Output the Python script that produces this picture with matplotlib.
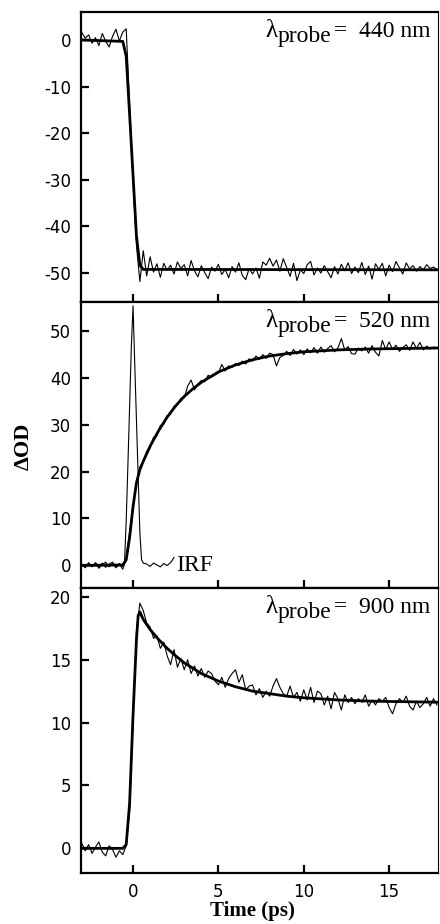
import matplotlib
matplotlib.use("Agg")
import matplotlib.pyplot as plt

plt.rcParams["axes.unicode_minus"] = False

# sample times (ps) of the measured traces
time_ps = [-3.0, -2.8, -2.6, -2.4, -2.2, -2.0, -1.8, -1.6, -1.4, -1.2,
           -1.0, -0.8, -0.6, -0.4, -0.2, 0.0, 0.2, 0.4, 0.6, 0.8,
           1.0, 1.2, 1.4, 1.6, 1.8, 2.0, 2.2, 2.4, 2.6, 2.8,
           3.0, 3.2, 3.4, 3.6, 3.8, 4.0, 4.2, 4.4, 4.6, 4.8,
           5.0, 5.2, 5.4, 5.6, 5.8, 6.0, 6.2, 6.4, 6.6, 6.8,
           7.0, 7.2, 7.4, 7.6, 7.8, 8.0, 8.2, 8.4, 8.6, 8.8,
           9.0, 9.2, 9.4, 9.6, 9.8, 10.0, 10.2, 10.4, 10.6, 10.8,
           11.0, 11.2, 11.4, 11.6, 11.8, 12.0, 12.2, 12.4, 12.6, 12.8,
           13.0, 13.2, 13.4, 13.6, 13.8, 14.0, 14.2, 14.4, 14.6, 14.8,
           15.0, 15.2, 15.4, 15.6, 15.8, 16.0, 16.2, 16.4, 16.6, 16.8,
           17.0, 17.2, 17.4, 17.6, 17.8]

# 440 nm: bleach
od_440 = [1.6, 0.4, 1.1, -0.7, 0.5, -1.2, 1.4, -0.3, -1.5, 0.8,
          2.3, -0.2, 1.7, 2.4, -14.0, -30.5, -44.0, -51.8, -45.2, -50.6,
          -46.5, -49.8, -48.0, -50.9, -47.9, -49.4, -48.3, -50.2, -47.6, -49.0,
          -48.2, -50.6, -47.3, -49.5, -50.8, -48.4, -49.9, -51.2, -48.7, -49.6,
          -48.1, -50.3, -49.2, -51.0, -48.6, -49.8, -47.8, -50.5, -51.4, -49.0,
          -50.2, -48.9, -51.1, -47.6, -48.3, -46.8, -48.5, -47.2, -49.6, -46.9,
          -48.8, -50.7, -47.9, -51.6, -49.3, -50.1, -48.2, -47.5, -50.4, -48.9,
          -50.0, -48.4, -49.7, -51.0, -48.6, -50.2, -48.1, -49.5, -47.8, -50.1,
          -48.7, -49.9, -47.7, -50.3, -48.5, -51.3, -48.0, -49.2, -47.9, -50.6,
          -48.3, -49.7, -47.5, -48.9, -50.2, -47.8, -49.1, -48.4, -49.6, -48.6,
          -49.3, -48.2, -49.0, -48.7, -49.2]
fit_440_t = [-3.0, -0.6, -0.4, -0.2, 0.0, 0.2, 0.4, 0.6, 17.8]
fit_440 = [0.0, -0.3, -3.5, -16.0, -29.0, -42.0, -48.3, -49.2, -49.3]

# 520 nm: rise
od_520 = [0.3, -0.4, 0.6, -0.2, 0.5, -0.6, 0.2, 0.7, -0.3, 0.4,
          -0.5, 0.3, -0.8, 1.6, 7.0, 13.0, 17.2, 21.0, 22.0, 24.3,
          25.0, 27.3, 27.6, 29.8, 30.1, 31.9, 32.2, 33.9, 34.1, 35.6,
          35.7, 38.2, 39.5, 37.4, 38.6, 39.4, 39.1, 40.5, 40.1, 40.6,
          41.0, 42.8, 41.4, 42.5, 42.2, 43.0, 42.6, 43.5, 42.9, 44.0,
          43.5, 44.6, 43.9, 44.9, 44.1, 45.2, 44.9, 42.5, 44.3, 44.7,
          45.6, 44.7, 46.0, 45.0, 45.9, 44.9, 46.1, 45.3, 46.4, 45.2,
          46.5, 45.4, 46.2, 46.8, 45.5, 46.3, 48.3, 45.9, 46.6, 45.1,
          45.0, 46.3, 45.7, 46.5, 45.2, 46.8, 45.4, 44.6, 47.9, 46.0,
          47.6, 46.0, 46.9, 45.6, 46.4, 47.0, 45.8, 47.6, 46.2, 47.5,
          45.9, 46.7, 46.1, 46.5, 46.3]
fit_520_t = [-3.0, -0.6, -0.4, -0.2, 0.0, 0.2, 0.4, 0.6, 0.8, 1.0, 1.5, 2.0, 2.5,
             3.0, 3.5, 4.0, 5.0, 6.0, 7.0, 8.0, 9.0, 10.0, 12.0, 14.0, 17.8]
fit_520 = [0.0, 0.1, 1.2, 6.0, 12.5, 17.6, 20.4, 22.2, 23.8, 25.4, 28.7, 31.6, 34.0,
           36.0, 37.6, 39.0, 41.2, 42.7, 43.8, 44.6, 45.1, 45.5, 45.9, 46.1, 46.3]

# instrument response
irf_t = [-3.0, -2.8, -2.6, -2.4, -2.2, -2.0, -1.8, -1.6, -1.4, -1.2, -1.0, -0.8, -0.6,
         -0.5, -0.4, -0.3, -0.2, -0.1, 0.0, 0.1, 0.2, 0.3, 0.4, 0.5, 0.6,
         0.8, 1.0, 1.2, 1.4, 1.6, 1.8, 2.0, 2.2, 2.4]
irf = [0.2, -0.5, 0.4, -0.3, 0.6, -0.2, 0.5, -0.4, 0.3, 0.7, -0.3, 0.4, -0.2,
       0.5, 9.5, 21.5, 34.0, 46.5, 55.3, 43.0, 31.0, 19.0, 7.0, 1.2, 0.5,
       0.3, -0.2, 0.5, 0.1, -0.3, 0.4, 0.0, 0.6, 1.7]

# 900 nm: rise and decay
od_900 = [0.4, -0.2, 0.3, -0.4, 0.1, 0.5, -0.3, -0.6, 0.2, -0.1,
          -0.7, -0.2, -0.5, 0.2, 3.0, 10.0, 17.2, 19.5, 18.9, 17.9,
          17.6, 16.7, 16.9, 15.9, 16.4, 15.3, 14.6, 15.8, 14.4, 15.1,
          14.2, 15.0, 13.9, 14.5, 13.7, 14.3, 13.6, 14.1, 13.9, 13.3,
          13.0, 13.6, 12.8, 13.5, 13.9, 14.2, 13.2, 13.8, 12.6, 12.9,
          13.0, 12.2, 12.7, 12.0, 12.5, 12.1, 12.9, 13.5, 12.8, 12.3,
          12.1, 12.9, 12.0, 12.4, 11.7, 12.6, 11.8, 12.8, 11.6, 12.5,
          12.3, 11.4, 12.1, 11.1, 12.4, 11.9, 11.0, 12.2, 11.6, 12.0,
          11.5, 11.9, 11.6, 12.2, 11.3, 11.8, 11.4, 11.9, 11.7, 12.0,
          11.2, 10.7, 11.5, 11.9, 11.6, 12.1, 11.3, 11.0, 11.7, 11.2,
          11.5, 12.0, 11.3, 11.9, 11.4]
fit_900_t = [-3.0, -0.6, -0.4, -0.2, 0.0, 0.2, 0.3, 0.4, 0.6, 1.0, 1.5, 2.0, 2.5,
             3.0, 4.0, 5.0, 6.0, 7.0, 8.0, 9.0, 10.0, 12.0, 14.0, 17.8]
fit_900 = [0.0, 0.0, 0.3, 3.6, 10.6, 16.6, 18.5, 18.8, 18.2, 17.4, 16.6, 15.9, 15.3,
           14.75, 13.9, 13.3, 12.85, 12.5, 12.3, 12.1, 11.97, 11.8, 11.7, 11.62]

panels = [
    ("440", od_440, fit_440_t, fit_440, (-56.2, 6.0), [0, -10, -20, -30, -40, -50], 0.915),
    ("520", od_520, fit_520_t, fit_520, (-4.8, 56.1), [0, 10, 20, 30, 40, 50], 0.914),
    ("900", od_900, fit_900_t, fit_900, (-1.96, 20.7), [0, 5, 10, 15, 20], 0.912),
]

serif = "Liberation Serif"

fig = plt.figure(figsize=(4.4, 9.24), dpi=100)
gs = fig.add_gridspec(3, 1, left=0.184, right=0.995, top=0.987, bottom=0.0552,
                      hspace=0, height_ratios=[290, 286, 285])
axes = [fig.add_subplot(gs[i]) for i in range(3)]
renderer = fig.canvas.get_renderer()

for ax, (wl, od, ft, fv, ylim, yticks, ybase) in zip(axes, panels):
    ax.plot(time_ps, od, color="black", lw=0.8)
    ax.plot(ft, fv, color="black", lw=2.0)
    ax.set_xlim(-3.05, 17.85)
    ax.set_ylim(*ylim)
    ax.set_yticks(yticks)
    ax.set_xticks([0, 5, 10, 15])
    ax.tick_params(direction="in", length=6, width=1.6, labelsize=12, pad=7)
    for side in ("left", "top", "bottom"):
        ax.spines[side].set_linewidth(1.6)
    ax.spines["right"].set_linewidth(0.8)

    # lambda_probe label, built right to left
    t1 = ax.text(0.98, ybase, "=  " + wl + " nm", transform=ax.transAxes,
                 ha="right", va="baseline", family=serif, fontsize=17)
    bb = t1.get_window_extent(renderer).transformed(ax.transAxes.inverted())
    t2 = ax.text(bb.x0 - 0.008, ybase - 0.018, "probe", transform=ax.transAxes,
                 ha="right", va="baseline", family=serif, fontsize=17)
    bb2 = t2.get_window_extent(renderer).transformed(ax.transAxes.inverted())
    ax.text(bb2.x0, ybase, "λ", transform=ax.transAxes,
            ha="right", va="baseline", family=serif, fontsize=18)

axes[1].plot(irf_t, irf, color="black", lw=0.8)
axes[1].text(2.55, 0, "IRF", ha="left", va="center", family=serif, fontsize=17)

for ax in axes[:2]:
    ax.tick_params(labelbottom=False)

fig.text(0.055, 0.5166, "ΔOD", rotation=90, ha="center", va="center",
         family=serif, fontweight="bold", fontsize=16)
fig.text(0.573, 0.003, "Time (ps)", ha="center", va="bottom",
         family=serif, fontweight="bold", fontsize=15)

fig.savefig("out.png", dpi=100)
